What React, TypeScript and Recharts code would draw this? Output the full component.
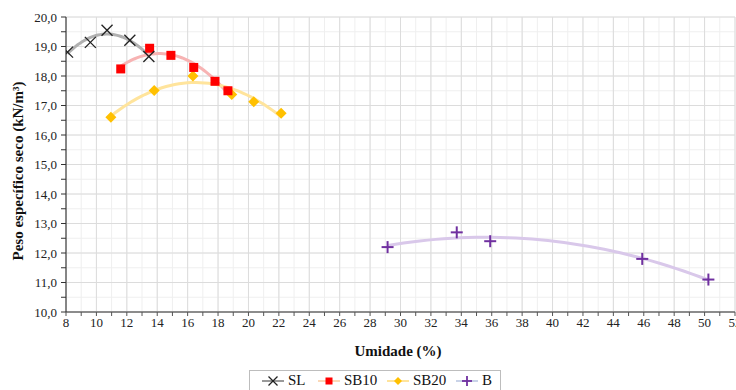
import React from "react";
import { ComposedChart, Scatter, XAxis, YAxis, CartesianGrid } from "recharts";

// Data
const slX = [8.1, 9.6, 10.7, 12.2, 13.45];
const slY = [18.81, 19.14, 19.55, 19.21, 18.66];
const sb10X = [11.6, 13.5, 14.9, 16.4, 17.8, 18.65];
const sb10Y = [18.24, 18.94, 18.7, 18.29, 17.82, 17.5];
const sb20X = [10.95, 13.8, 16.35, 18.9, 20.35, 22.15];
const sb20Y = [16.6, 17.51, 18.0, 17.37, 17.13, 16.74];
const bX = [29.15, 33.7, 35.9, 45.9, 50.25];
const bY = [12.2, 12.7, 12.4, 11.8, 11.1];

const xTicks = [8, 10, 12, 14, 16, 18, 20, 22, 24, 26, 28, 30, 32, 34, 36, 38, 40, 42, 44, 46, 48, 50, 52];
const yTicks = [10, 11, 12, 13, 14, 15, 16, 17, 18, 19, 20];
const seriesNames = ["SL", "SB10", "SB20", "B"];

const toPts = (xs: number[], ys: number[]) => xs.map((x, i) => ({ x, y: ys[i] }));

// second-order polynomial trendline (least squares), like the spreadsheet trendline
function quadFit(xs: number[], ys: number[]) {
  const n = xs.length;
  let s1 = 0, s2 = 0, s3 = 0, s4 = 0, t0 = 0, t1 = 0, t2 = 0;
  for (let i = 0; i < n; i++) {
    const x = xs[i], y = ys[i];
    s1 += x; s2 += x * x; s3 += x * x * x; s4 += x * x * x * x;
    t0 += y; t1 += x * y; t2 += x * x * y;
  }
  const M = [
    [n, s1, s2, t0],
    [s1, s2, s3, t1],
    [s2, s3, s4, t2],
  ];
  for (let c = 0; c < 3; c++) {
    for (let r = c + 1; r < 3; r++) {
      const f = M[r][c] / M[c][c];
      for (let k = c; k < 4; k++) M[r][k] -= f * M[c][k];
    }
  }
  const coef = [0, 0, 0];
  for (let r = 2; r >= 0; r--) {
    let s = M[r][3];
    for (let k = r + 1; k < 3; k++) s -= M[r][k] * coef[k];
    coef[r] = s / M[r][r];
  }
  return coef;
}

function trend(xs: number[], ys: number[]) {
  const [a, b, c] = quadFit(xs, ys);
  const lo = Math.min(...xs), hi = Math.max(...xs);
  const out: { x: number; y: number }[] = [];
  const steps = 40;
  for (let i = 0; i <= steps; i++) {
    const x = lo + ((hi - lo) * i) / steps;
    out.push({ x, y: a + b * x + c * x * x });
  }
  return out;
}

const slPts = toPts(slX, slY);
const sb10Pts = toPts(sb10X, sb10Y);
const sb20Pts = toPts(sb20X, sb20Y);
const bPts = toPts(bX, bY);

const COLORS = {
  sl: "#222222",
  sb10: "#FF0000",
  sb20: "#FFC000",
  b: "#7030A0",
  slT: "#b0b0b0",
  sb10T: "#f7b3b3",
  sb20T: "#ffe49c",
  bT: "#d9c8ea",
};
const LEGEND_LINE: Record<string, string> = {
  SL: "#9a9a9a",
  SB10: "#fbd9b8",
  SB20: "#ffe49c",
  B: "#c9d3e8",
};

const Cross = (p: any) => (
  <g>
    <line x1={p.cx - 5.5} y1={p.cy - 5.5} x2={p.cx + 5.5} y2={p.cy + 5.5} stroke={COLORS.sl} strokeWidth={1.3} />
    <line x1={p.cx - 5.5} y1={p.cy + 5.5} x2={p.cx + 5.5} y2={p.cy - 5.5} stroke={COLORS.sl} strokeWidth={1.3} />
  </g>
);
const Square = (p: any) => <rect x={p.cx - 4.5} y={p.cy - 4.5} width={9} height={9} fill={COLORS.sb10} />;
const Diamond = (p: any) => (
  <polygon
    points={`${p.cx},${p.cy - 5.5} ${p.cx + 5.5},${p.cy} ${p.cx},${p.cy + 5.5} ${p.cx - 5.5},${p.cy}`}
    fill={COLORS.sb20}
  />
);
const Plus = (p: any) => (
  <g>
    <line x1={p.cx - 6} y1={p.cy} x2={p.cx + 6} y2={p.cy} stroke={COLORS.b} strokeWidth={2} />
    <line x1={p.cx} y1={p.cy - 6} x2={p.cx} y2={p.cy + 6} stroke={COLORS.b} strokeWidth={2} />
  </g>
);
const NoDot = () => <g />;

const xMinor: number[] = [];
for (let v = 8; v <= 52; v += 1) xMinor.push(v);
const yMinor: number[] = [];
for (let v = 10; v <= 20.001; v += 0.5) yMinor.push(Math.round(v * 10) / 10);

const font = "'Liberation Serif', 'Times New Roman', serif";

const XTick = (p: any) => {
  const v = p.payload.value;
  if (v % 2 !== 0) return <g />;
  return (
    <text x={p.x} y={p.y + 9} textAnchor="middle" fontSize={13} fontFamily={font} fill="#222">
      {v}
    </text>
  );
};
const YTick = (p: any) => {
  const v = p.payload.value;
  if (Math.abs(v - Math.round(v)) > 0.01) return <g />;
  return (
    <text x={p.x - 2} y={p.y + 4.5} textAnchor="end" fontSize={13} fontFamily={font} fill="#222">
      {v.toFixed(1).replace(".", ",")}
    </text>
  );
};

const LegendMark = ({ kind }: { kind: string }) => {
  const cx = 11, cy = 8;
  let m: React.ReactNode = null;
  if (kind === "SL") m = (
    <g>
      <line x1={cx - 4.5} y1={cy - 4.5} x2={cx + 4.5} y2={cy + 4.5} stroke={COLORS.sl} strokeWidth={1.3} />
      <line x1={cx - 4.5} y1={cy + 4.5} x2={cx + 4.5} y2={cy - 4.5} stroke={COLORS.sl} strokeWidth={1.3} />
    </g>
  );
  if (kind === "SB10") m = <rect x={cx - 3.5} y={cy - 3.5} width={7} height={7} fill={COLORS.sb10} />;
  if (kind === "SB20") m = <polygon points={`${cx},${cy - 4} ${cx + 4},${cy} ${cx},${cy + 4} ${cx - 4},${cy}`} fill={COLORS.sb20} />;
  if (kind === "B") m = (
    <g>
      <line x1={cx - 5} y1={cy} x2={cx + 5} y2={cy} stroke={COLORS.b} strokeWidth={1.8} />
      <line x1={cx} y1={cy - 5} x2={cx} y2={cy + 5} stroke={COLORS.b} strokeWidth={1.8} />
    </g>
  );
  return (
    <svg width={22} height={16} style={{ display: "block" }}>
      <line x1={0} y1={cy} x2={22} y2={cy} stroke={LEGEND_LINE[kind]} strokeWidth={2} />
      {m}
    </svg>
  );
};

const legendLeft = [262, 318, 387, 456];

export default function App() {
  return (
    <div style={{ position: "absolute", left: 0, top: 0, width: 736, height: 390, background: "#fff", overflow: "hidden", fontFamily: font }}>
      <ComposedChart
        width={736}
        height={390}
        margin={{ top: 17, right: 1, bottom: 48, left: 16 }}
      >
        <CartesianGrid stroke="#efefef" verticalValues={xMinor} horizontalValues={yMinor} />
        <CartesianGrid stroke="#dcdcdc" verticalValues={xTicks} horizontalValues={yTicks} />
        <XAxis
          type="number"
          dataKey="x"
          domain={[8, 52]}
          ticks={xMinor}
          interval={0}
          allowDataOverflow
          height={30}
          tick={<XTick />}
          tickSize={4}
          tickLine={{ stroke: "#555" }}
          axisLine={{ stroke: "#8c8c8c", strokeWidth: 2 }}
        />
        <YAxis
          type="number"
          dataKey="y"
          domain={[10, 20]}
          ticks={yMinor}
          interval={0}
          allowDataOverflow
          width={50}
          tick={<YTick />}
          tickSize={5}
          tickLine={{ stroke: "#333" }}
          axisLine={{ stroke: "#222" }}
        />
        <Scatter data={trend(slX, slY)} line={{ stroke: COLORS.slT, strokeWidth: 3 }} lineType="joint" shape={<NoDot />} isAnimationActive={false} />
        <Scatter data={trend(sb10X, sb10Y)} line={{ stroke: COLORS.sb10T, strokeWidth: 3 }} lineType="joint" shape={<NoDot />} isAnimationActive={false} />
        <Scatter data={trend(sb20X, sb20Y)} line={{ stroke: COLORS.sb20T, strokeWidth: 3 }} lineType="joint" shape={<NoDot />} isAnimationActive={false} />
        <Scatter data={trend(bX, bY)} line={{ stroke: COLORS.bT, strokeWidth: 3 }} lineType="joint" shape={<NoDot />} isAnimationActive={false} />
        <Scatter name="SB20" data={sb20Pts} shape={<Diamond />} isAnimationActive={false} />
        <Scatter name="SB10" data={sb10Pts} shape={<Square />} isAnimationActive={false} />
        <Scatter name="SL" data={slPts} shape={<Cross />} isAnimationActive={false} />
        <Scatter name="B" data={bPts} shape={<Plus />} isAnimationActive={false} />
      </ComposedChart>
      <div
        style={{
          position: "absolute",
          left: 18,
          top: 171,
          transform: "translate(-50%, -50%) rotate(-90deg)",
          whiteSpace: "nowrap",
          fontWeight: "bold",
          fontSize: 15,
          lineHeight: "18px",
          color: "#111",
        }}
      >
        Peso específico seco (kN/m³)
      </div>
      <div
        style={{
          position: "absolute",
          left: 398,
          top: 343,
          transform: "translateX(-50%)",
          whiteSpace: "nowrap",
          fontWeight: "bold",
          fontSize: 15,
          color: "#111",
        }}
      >
        Umidade (%)
      </div>
      <div
        style={{
          position: "absolute",
          left: 249,
          top: 370,
          width: 252,
          height: 26,
          border: "1px solid #bdbdbd",
          boxSizing: "border-box",
        }}
      />
      {seriesNames.map((n, i) => (
        <div
          key={n}
          style={{
            position: "absolute",
            left: legendLeft[i],
            top: 372,
            display: "flex",
            alignItems: "center",
            gap: 4,
            fontSize: 15,
            lineHeight: "17px",
            color: "#111",
          }}
        >
          <LegendMark kind={n} />
          <span>{n}</span>
        </div>
      ))}
    </div>
  );
}
